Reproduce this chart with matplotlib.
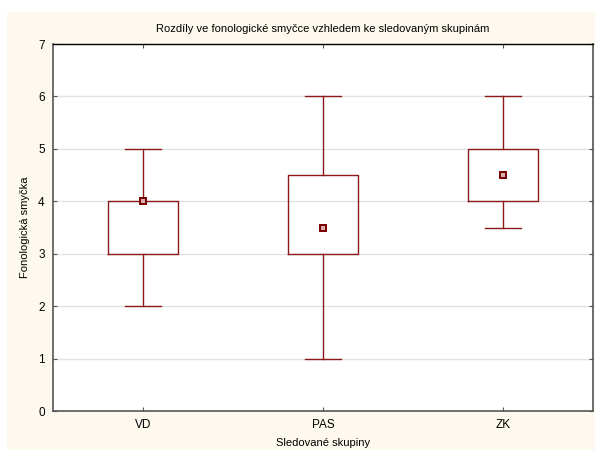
import matplotlib.pyplot as plt
from matplotlib.patches import Rectangle

plt.rcParams['font.family'] = ['Liberation Sans', 'DejaVu Sans']

groups = ['VD', 'PAS', 'ZK']
medians = [4.0, 3.5, 4.5]
q1 = [3.0, 3.0, 4.0]
q3 = [4.0, 4.5, 5.0]
whisk_lo = [2.0, 1.0, 3.5]
whisk_hi = [5.0, 6.0, 6.0]

red = '#8b1a1a'

fig = plt.figure(figsize=(5.95, 4.5), dpi=100)
fig.patch.set_facecolor('white')
fig.patches.append(Rectangle((7 / 595, 0), 1, 1 - 12 / 450, transform=fig.transFigure,
                             facecolor='#fef9ee', edgecolor='none', zorder=-10))

ax = fig.add_axes([53 / 595, 39 / 450, 540 / 595, 367 / 450])
ax.set_facecolor('white')

stats = []
for i, g in enumerate(groups):
    stats.append({'label': g, 'med': medians[i], 'q1': q1[i], 'q3': q3[i],
                  'whislo': whisk_lo[i], 'whishi': whisk_hi[i], 'fliers': []})

ax.bxp(stats, positions=[1, 2, 3], widths=0.39, showfliers=False,
       boxprops=dict(color=red, linewidth=1.0),
       whiskerprops=dict(color=red, linewidth=1.0),
       capprops=dict(color=red, linewidth=1.0),
       medianprops=dict(linewidth=0),
       capwidths=0.2)
ax.plot([1, 2, 3], medians, linestyle='none', marker='s', markersize=4,
        markerfacecolor='#d9b0b0', markeredgecolor='#7a0000', markeredgewidth=1.4, zorder=5)

ax.set_xlim(0.5, 3.5)
ax.set_ylim(0, 7)
ax.set_yticks(range(0, 8))
ax.set_xticks([1, 2, 3])
ax.set_xticklabels(groups)
for y in range(1, 7):
    ax.axhline(y, color='#e2e2e2', linewidth=1.0, zorder=0)

ax.tick_params(direction='in', length=3, width=0.8, color='#555555',
               top=True, right=True, labelsize=8.5, pad=6)
for s in ['left', 'bottom', 'right']:
    ax.spines[s].set_color('#555555')
    ax.spines[s].set_linewidth(1.2)
ax.spines['top'].set_color('black')
ax.spines['top'].set_linewidth(1.0)

ax.set_title('Rozdíly ve fonologické smyčce vzhledem ke sledovaným skupinám', fontsize=8, pad=9)
ax.set_xlabel('Sledované skupiny', fontsize=8, labelpad=5)
ax.set_ylabel('Fonologická smyčka', fontsize=8, labelpad=6)

fig.savefig('out.png', dpi=100, facecolor=fig.get_facecolor())
